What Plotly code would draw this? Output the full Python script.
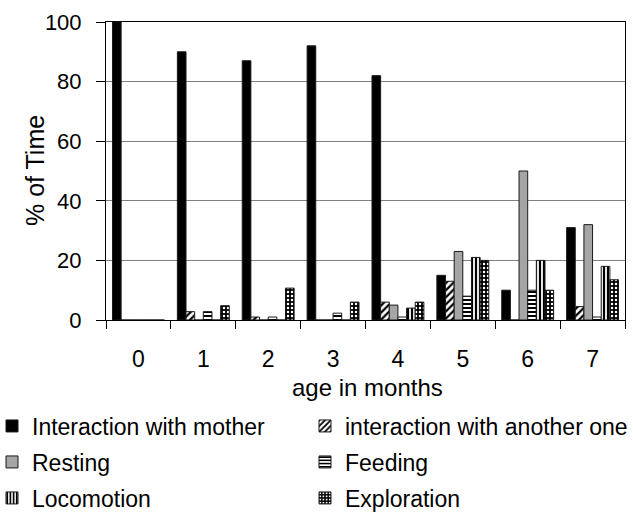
import plotly.graph_objects as go

ages = ["0", "1", "2", "3", "4", "5", "6", "7"]
series_names = ["Interaction with mother", "interaction with another one", "Resting",
                "Feeding", "Locomotion", "Exploration"]
mother = [100, 90, 87, 92, 82, 15, 10, 31]
another = [0, 2.8, 1, 0, 6, 13, 0, 4.5]
resting = [0, 0, 0, 0, 5, 23, 50, 32]
feeding = [0, 2.8, 1, 2.3, 1, 8, 10, 1]
locomotion = [0, 0, 0, 0, 4, 21, 20, 18]
exploration = [0, 4.8, 10.7, 6, 6, 20, 10, 13.5]
y_ticks = [0, 20, 40, 60, 80, 100]

values = [mother, another, resting, feeding, locomotion, exploration]

styles = [
    dict(color="black"),
    dict(color="white", pattern=dict(shape="/", fillmode="replace", bgcolor="white", fgcolor="black", size=5, solidity=0.45)),
    dict(color="#a5a5a5"),
    dict(color="white", pattern=dict(shape="-", fillmode="replace", bgcolor="white", fgcolor="black", size=4, solidity=0.5)),
    dict(color="white", pattern=dict(shape="|", fillmode="replace", bgcolor="white", fgcolor="black", size=4, solidity=0.55)),
    dict(color="black", pattern=dict(shape=".", fillmode="replace", bgcolor="black", fgcolor="white", size=4, solidity=0.3)),
]

FONT = "Liberation Sans, Arial, sans-serif"
W, H = 633, 513
ML, MR, MT, MB = 106, 8, 22, 193
PW = W - ML - MR
PH = H - MT - MB

legend_ids = ["legend", "legend2", "legend3", "legend4", "legend5", "legend6"]
col_px = [-8, 305]
row_px = [426, 462, 498]

fig = go.Figure()
for i, (name, vals, st) in enumerate(zip(series_names, values, styles)):
    marker = dict(st)
    marker["line"] = dict(color="#1a1a1a", width=1)
    fig.add_trace(go.Bar(x=ages, y=vals, name=name, marker=marker, legend=legend_ids[i]))

legend_layout = {}
for i, lid in enumerate(legend_ids):
    r, c = divmod(i, 2)
    legend_layout[lid] = dict(
        x=(col_px[c] - ML) / PW, xanchor="left",
        y=(MT + PH - row_px[r]) / PH, yanchor="middle",
        font=dict(family=FONT, size=23, color="black"),
        bgcolor="rgba(0,0,0,0)", borderwidth=0,
    )

fig.update_layout(
    width=W, height=H,
    margin=dict(l=ML, r=MR, t=MT, b=MB, autoexpand=False),
    paper_bgcolor="white", plot_bgcolor="white",
    barmode="group", bargap=0.2, bargroupgap=0,
    font=dict(family=FONT, color="black"),
    showlegend=True,
    **legend_layout,
    xaxis=dict(
        type="category", tickson="boundaries", ticks="outside", ticklen=8, tickcolor="black",
        showline=True, linecolor="black", linewidth=1, mirror=True, showgrid=False,
        tickfont=dict(family=FONT, size=23, color="black"), ticklabelstandoff=18,
    ),
    yaxis=dict(
        range=[0, 100], tickvals=y_ticks, ticks="outside", ticklen=9, tickcolor="black",
        showline=True, linecolor="black", linewidth=1, mirror=True,
        showgrid=True, gridcolor="#808080", gridwidth=1, zeroline=False,
        tickfont=dict(family=FONT, size=22, color="black"), ticklabelstandoff=10,
    ),
    annotations=[
        dict(text="% of Time", xref="paper", yref="paper", x=(35 - ML) / PW, y=0.5,
             xanchor="center", yanchor="middle", textangle=-90, showarrow=False,
             font=dict(family=FONT, size=25, color="black")),
        dict(text="age in months", xref="paper", yref="paper", x=(367 - ML) / PW,
             y=-(388 - (MT + PH)) / PH, xanchor="center", yanchor="middle", showarrow=False,
             font=dict(family=FONT, size=24, color="black")),
    ],
)

fig.write_html("out.html", config={"displayModeBar": False},
               post_script="document.body.style.margin='0';document.body.style.overflow='hidden';")
